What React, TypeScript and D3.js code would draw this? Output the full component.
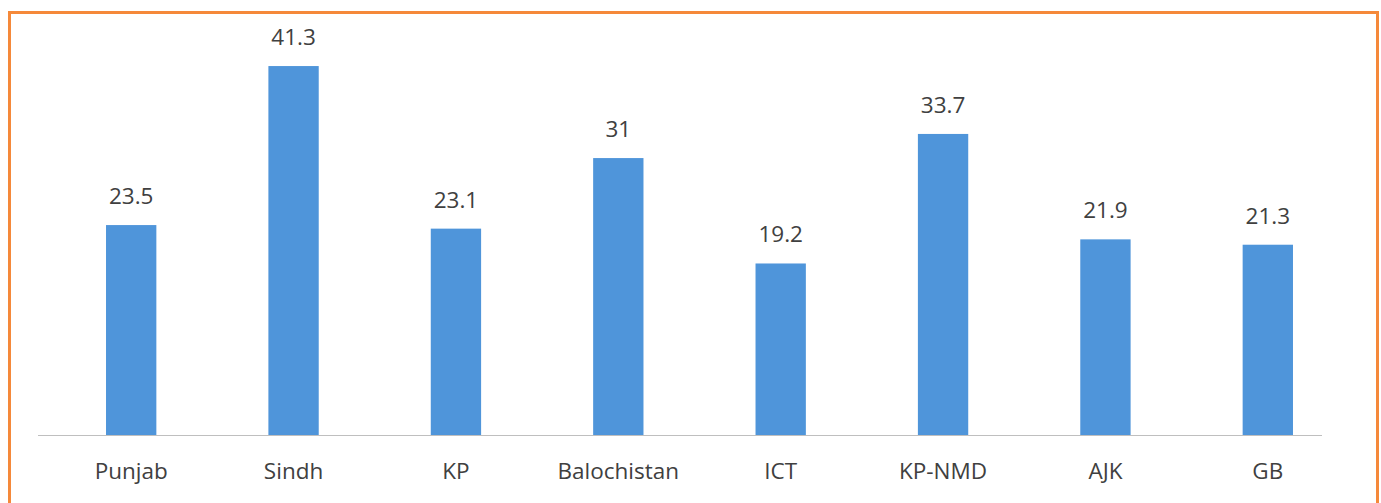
import * as React from "react";
import * as d3 from "d3";

const categories = ["Punjab", "Sindh", "KP", "Balochistan", "ICT", "KP-NMD", "AJK", "GB"];
const values = [23.5, 41.3, 23.1, 31, 19.2, 33.7, 21.9, 21.3];
const valueLabels = ["23.5", "41.3", "23.1", "31", "19.2", "33.7", "21.9", "21.3"];

const W = 1381;
const H = 503;
const barColor = "#4F95DA";
const textColor = "#404040";

export default function App() {
  const ref = React.useRef(null);

  React.useEffect(() => {
    const svg = d3.select(ref.current);
    svg.selectAll("*").remove();

    const x = d3.scaleBand()
      .domain(categories)
      .range([50, 1349])
      .paddingInner(0.69)
      .paddingOuter(0.345);

    const y = d3.scaleLinear()
      .domain([0, 45])
      .range([435, 33]);

    svg.append("rect")
      .attr("width", W)
      .attr("height", H)
      .attr("fill", "#fff");

    // orange frame
    svg.append("rect")
      .attr("x", 9.5)
      .attr("y", 12.5)
      .attr("width", 1368)
      .attr("height", 520)
      .attr("fill", "none")
      .attr("stroke", "#F5893A")
      .attr("stroke-width", 3);

    svg.append("g")
      .selectAll("rect")
      .data(values)
      .join("rect")
      .attr("x", (d, i) => x(categories[i]))
      .attr("y", d => y(d))
      .attr("width", x.bandwidth())
      .attr("height", d => y(0) - y(d))
      .attr("fill", barColor);

    svg.append("line")
      .attr("x1", 38)
      .attr("x2", 1322)
      .attr("y1", y(0) + 0.5)
      .attr("y2", y(0) + 0.5)
      .attr("stroke", "#BFBFBF")
      .attr("stroke-width", 1);

    svg.append("g")
      .selectAll("text")
      .data(values)
      .join("text")
      .attr("x", (d, i) => x(categories[i]) + x.bandwidth() / 2)
      .attr("y", d => y(d) - 21)
      .attr("text-anchor", "middle")
      .attr("font-family", "'Open Sans', sans-serif")
      .attr("font-size", 22.5)
      .attr("fill", textColor)
      .text((d, i) => valueLabels[i]);

    svg.append("g")
      .selectAll("text")
      .data(categories)
      .join("text")
      .attr("x", d => x(d) + x.bandwidth() / 2)
      .attr("y", 479)
      .attr("text-anchor", "middle")
      .attr("font-family", "'Open Sans', sans-serif")
      .attr("font-size", 22.5)
      .attr("fill", textColor)
      .text(d => d);
  }, []);

  return (
    <svg ref={ref} width={W} height={H} style={{ position: "absolute", left: 0, top: 0 }} />
  );
}
